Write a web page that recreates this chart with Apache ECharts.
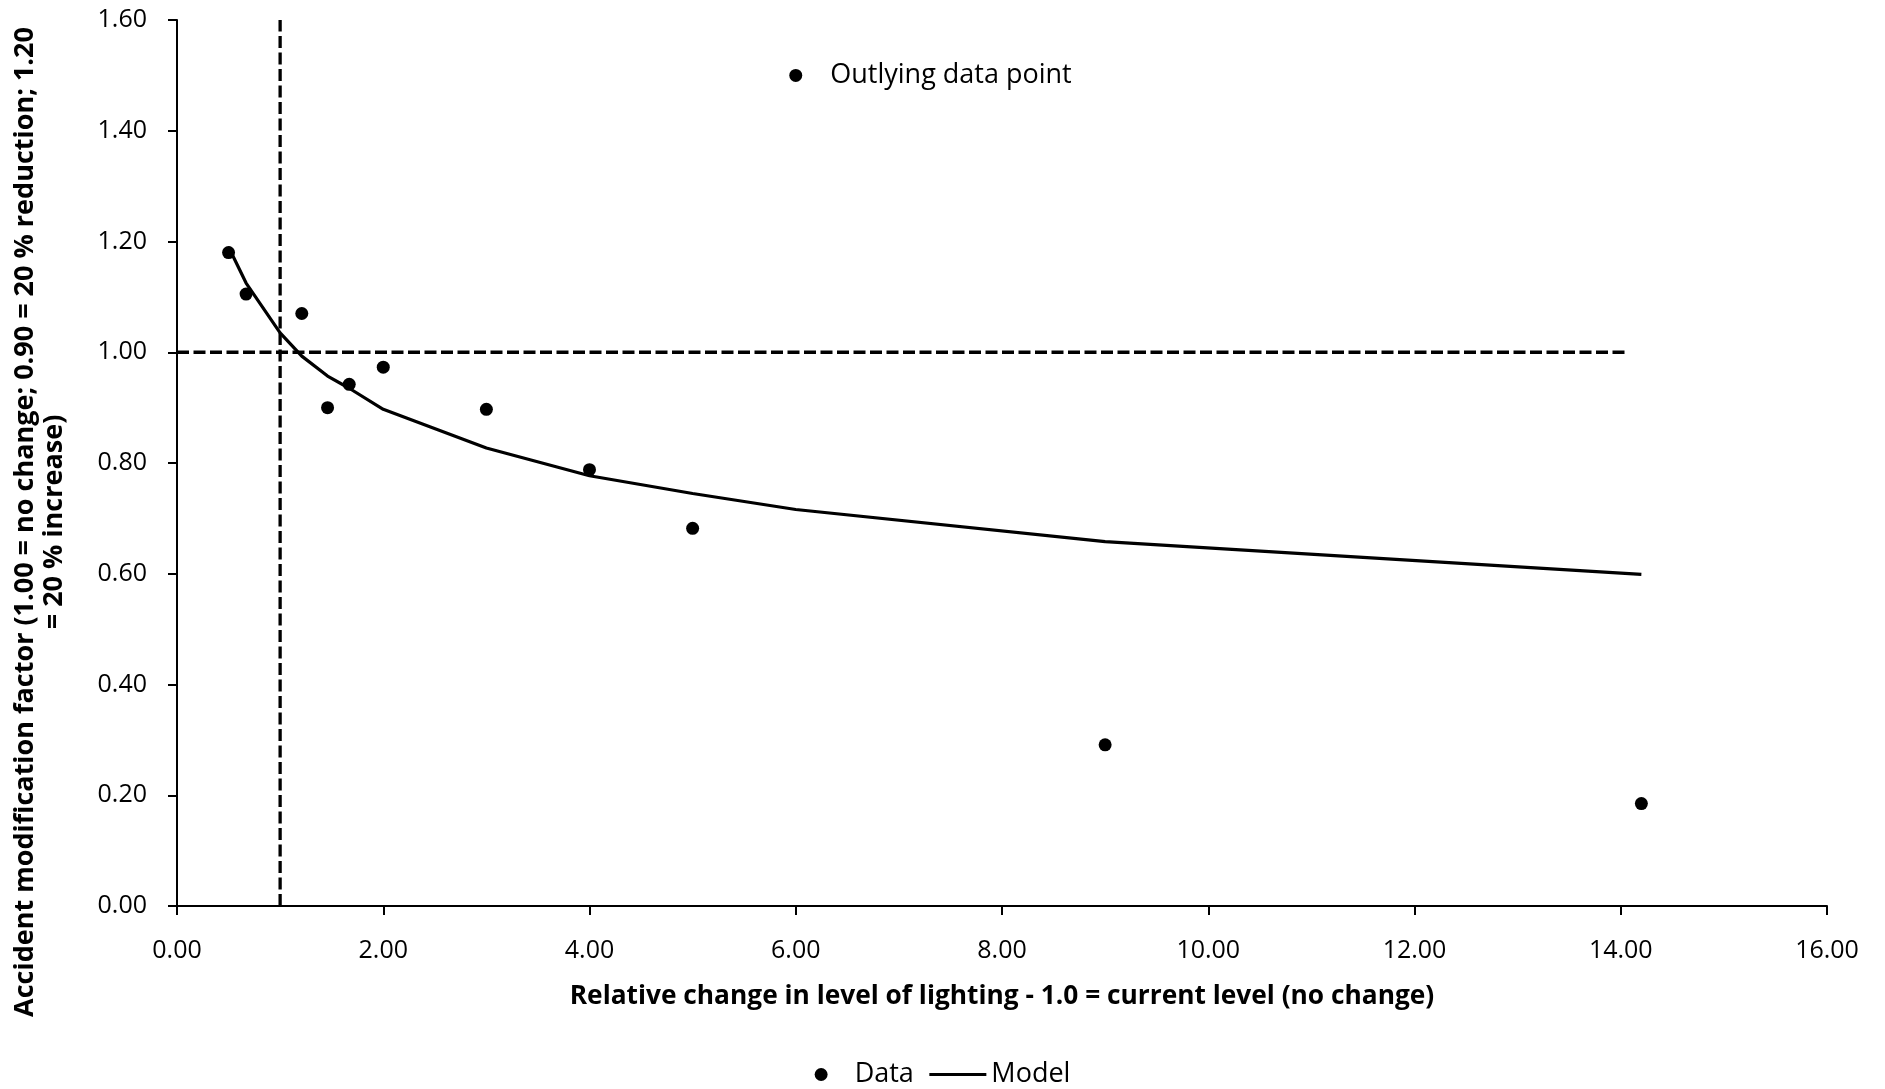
<!DOCTYPE html>
<html>
<head>
<meta charset="utf-8">
<script src="https://cdn.jsdelivr.net/npm/echarts@6/dist/echarts.min.js"></script>
<style>
  html, body { margin: 0; padding: 0; background: #fff; }
  #main { width: 1885px; height: 1089px; }
</style>
</head>
<body>
<div id="main"></div>
<script>
// observed data points
var dataX = [0.5, 0.67, 1.21, 1.46, 1.67, 2.0, 3.0, 4.0, 5.0, 9.0, 14.2];
var dataY = [1.18, 1.105, 1.07, 0.90, 0.942, 0.973, 0.897, 0.788, 0.682, 0.291, 0.185];
// fitted model line
var modelX = [0.5, 0.67, 1.0, 1.21, 1.46, 1.67, 2.0, 3.0, 4.0, 5.0, 6.0, 9.0, 14.2];
var modelY = [1.19, 1.125, 1.035, 0.993, 0.957, 0.935, 0.897, 0.827, 0.777, 0.745, 0.716, 0.658, 0.599];
// reference lines (no change)
var vRefLine = [[1.0, 0], [1.0, 1.6]];
var hRefLine = [[0, 1.0], [14.05, 1.0]];
// annotation marker
var outlier = [[6.0, 1.50]];

var xTitle = 'Relative change in level of lighting - 1.0 = current level (no change)';
var yTitle = 'Accident modification factor (1.00 = no change; 0.90 = 20 % reduction; 1.20\n= 20 % increase)';

var FONT = '"Open Sans", "Noto Sans", sans-serif';

function zip(xs, ys) {
    var out = [];
    for (var i = 0; i < xs.length; i++) out.push([xs[i], ys[i]]);
    return out;
}

var myChart = echarts.init(document.getElementById('main'));
var option = {
    backgroundColor: '#fff',
    animation: false,
    grid: { left: 177, right: 58, top: 20, bottom: 183, outerBoundsMode: 'none' },
    legend: {
        data: [
            { name: 'Data', icon: 'circle' },
            { name: 'Model', itemStyle: { opacity: 0 }, lineStyle: { width: 3, color: '#000' } }
        ],
        top: 1056,
        left: 'center',
        itemWidth: 57,
        itemHeight: 13,
        itemGap: 14,
        textStyle: { color: '#000', fontSize: 27, fontFamily: FONT }
    },
    xAxis: {
        type: 'value',
        min: 0, max: 16, interval: 2,
        splitLine: { show: false },
        axisLine: { onZero: false, lineStyle: { color: '#000', width: 2 } },
        axisTick: { show: true, length: 9, lineStyle: { color: '#000', width: 2 } },
        axisLabel: {
            color: '#000', fontSize: 25, fontFamily: FONT, margin: 32,
            formatter: function (v) { return v.toFixed(2); }
        },
        name: xTitle,
        nameLocation: 'middle',
        nameGap: 78,
        nameTextStyle: { color: '#000', fontSize: 26.3, fontWeight: 'bold', fontFamily: FONT }
    },
    yAxis: {
        type: 'value',
        min: 0, max: 1.6, interval: 0.2,
        splitLine: { show: false },
        axisLine: { onZero: false, lineStyle: { color: '#000', width: 2 } },
        axisTick: { show: true, length: 9, lineStyle: { color: '#000', width: 2 } },
        axisLabel: {
            color: '#000', fontSize: 25, fontFamily: FONT, margin: 30,
            formatter: function (v) { return v.toFixed(2); }
        }
    },
    graphic: [{
        type: 'text',
        x: 40, y: 522,
        rotation: Math.PI / 2,
        style: {
            text: yTitle,
            align: 'center',
            verticalAlign: 'middle',
            fill: '#000',
            font: 'bold 27px ' + FONT,
            lineHeight: 29
        }
    }],
    series: [
        {
            name: 'vref', type: 'line', data: vRefLine, symbol: 'none',
            lineStyle: { color: '#000', width: 3.3, type: [12, 4.5] }, z: 1
        },
        {
            name: 'href', type: 'line', data: hRefLine, symbol: 'none',
            lineStyle: { color: '#000', width: 3.3, type: [12, 4.5] }, z: 1
        },
        {
            name: 'Model', type: 'line', data: zip(modelX, modelY),
            symbol: 'none', smooth: false,
            lineStyle: { color: '#000', width: 3.2 },
            itemStyle: { color: '#000' }, z: 2
        },
        {
            name: 'Data', type: 'scatter', data: zip(dataX, dataY),
            symbol: 'circle', symbolSize: 13,
            itemStyle: { color: '#000', opacity: 1 }, z: 3
        },
        {
            name: 'Outlying', type: 'scatter', data: outlier,
            symbol: 'circle', symbolSize: 13,
            itemStyle: { color: '#000', opacity: 1 },
            label: {
                show: true, position: 'right', distance: 28,
                formatter: 'Outlying data point',
                color: '#000', fontSize: 27, fontFamily: FONT
            }
        }
    ]
};
myChart.setOption(option);
</script>
</body>
</html>
